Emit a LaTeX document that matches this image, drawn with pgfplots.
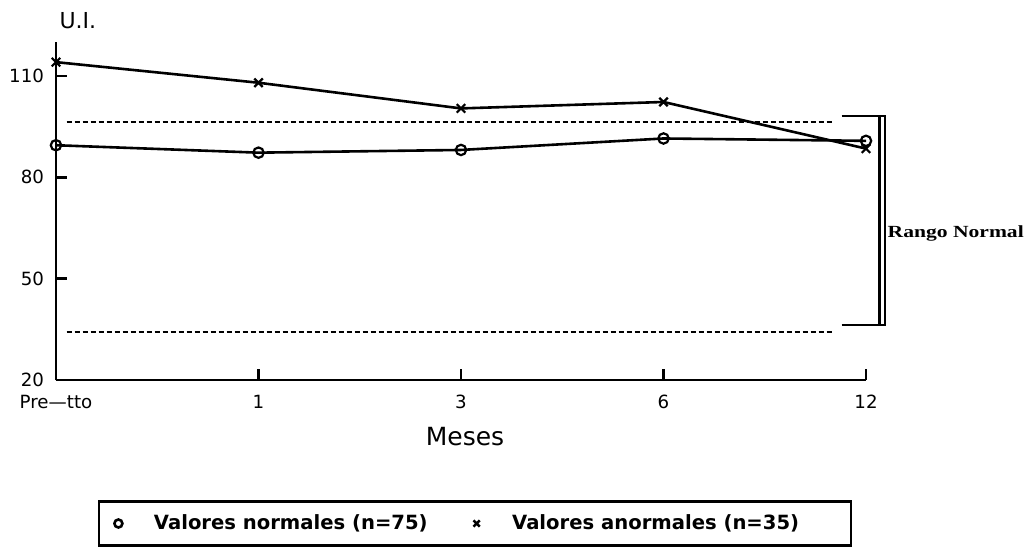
\documentclass[border=0pt]{standalone}
\usepackage{fontspec}
\setmainfont{DejaVu Sans}
\newfontfamily\rangofont{Liberation Serif}
\usepackage{graphicx}
\usepackage{pgfplots}
\pgfplotsset{compat=1.18}

\begin{document}
\begin{tikzpicture}
\useasboundingbox (-28pt,-88.5pt) rectangle (487.5pt,190pt);
\begin{axis}[
    scale only axis,
    width=405pt, height=168.9pt,
    at={(0,0)}, anchor=south west,
    xmin=0, xmax=4, ymin=20, ymax=120,
    axis lines=left,
    axis line style={-, line width=1.2pt},
    xtick={0,1,2,3,4},
    xticklabels={Pre---tto,1,3,6,12},
    ytick={20,50,80,110},
    ytick pos=left,
    tick align=inside,
    major tick length=5.5pt,
    tick style={line width=1.1pt, black},
    ytick style={line width=1.2pt, black},
    ticklabel style={font=\fontsize{9.1}{10}\selectfont},
    xticklabel style={yshift=-4pt},
    yticklabel style={xshift=-2.5pt},
    /pgf/number format/assume math mode=true,
    xlabel={Meses}, ylabel={U.I.},
    every axis x label/.style={at={(axis description cs:0.505,-0.1687)}, anchor=center, font=\fontsize{12.5}{14}\selectfont},
    every axis y label/.style={at={(axis description cs:0.027,1.063)}, anchor=center, font=\fontsize{11}{12}\selectfont},
    clip=false,
    legend columns=2,
    legend image code/.code={\path (0cm,0cm) (0.5cm,0cm); \draw[#1] plot coordinates {(0.25cm,0cm)};},
    legend style={
        at={(axis description cs:0.5173,-0.4248)}, anchor=center,
        draw=black, line width=1.2pt,
        font=\fontsize{9.8}{11}\selectfont\bfseries,
        inner xsep=2pt, inner ysep=4.5pt,
        /tikz/every odd column/.append style={column sep=8pt},
        /tikz/every even column/.append style={column sep=14.7pt},
    },
]
% rango normal (limites punteados)
\addplot[forget plot, line width=0.9pt, dash pattern=on 2.5pt off 1.5pt] coordinates {(0.053,96.3) (3.84,96.3)};
\addplot[forget plot, line width=0.9pt, dash pattern=on 2.5pt off 1.5pt] coordinates {(0.053,34.3) (3.84,34.3)};

% valores normales (n=75)
\addplot[forget plot, line width=1.3pt, mark=o, mark size=2.6pt, mark options={solid, line width=1.1pt}]
    coordinates {(0,89.5) (1,87.3) (2,88.1) (3,91.5) (4,90.8)};
% valores anormales (n=35)
\addplot[forget plot, line width=1.3pt, mark=x, mark size=3pt, mark options={solid, line width=1.1pt}]
    coordinates {(0,114.1) (1,108.0) (2,100.4) (3,102.3) (4,88.5)};

\addlegendimage{mark=o, mark size=2pt, line width=1.3pt}
\addlegendentry{Valores normales (n=75)}
\addlegendimage{mark=x, mark size=2.2pt, line width=1.3pt}
\addlegendentry{Valores anormales (n=35)\rule{22pt}{0pt}}

% corchete
\draw[line width=1.1pt] (axis cs:3.88,98.2) -- (axis cs:4.10,98.2);
\draw[line width=1.1pt] (axis cs:3.88,36.3) -- (axis cs:4.10,36.3);
\draw[line width=1.1pt] (axis cs:4.067,98.2) -- (axis cs:4.067,36.3);
\draw[line width=1.1pt] (axis cs:4.092,98.2) -- (axis cs:4.092,36.3);
\node[anchor=west, inner sep=0pt] at (axis cs:4.105,63.5)
    {\scalebox{1.27}[1]{\rangofont\bfseries\fontsize{8.5}{9}\selectfont Rango Normal}};
\end{axis}
\end{tikzpicture}
\end{document}
